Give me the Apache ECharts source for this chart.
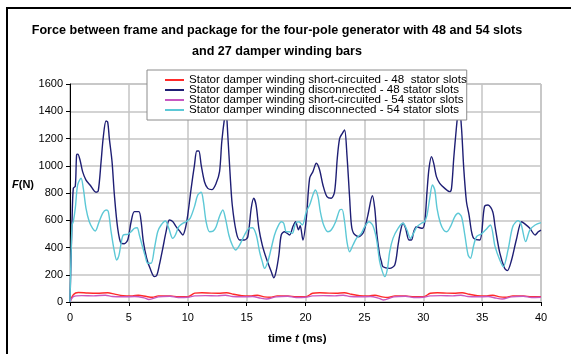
<!DOCTYPE html>
<html>
<head>
<meta charset="utf-8">
<script src="https://cdn.jsdelivr.net/npm/echarts@6/dist/echarts.min.js"></script>
<style>
  html, body { margin: 0; padding: 0; background: #fff; }
  #chart { width: 571px; height: 354px; }
</style>
</head>
<body>
<div id="chart"></div>
<script>
// Series names (legend order)
const seriesNames = [
  'Stator damper winding short-circuited - 48  stator slots',
  'Stator damper winding disconnected - 48 stator slots',
  'Stator damper winding short-circuited - 54 stator slots',
  'Stator damper winding disconnected - 54 stator slots'
];

// Axis ticks
const timeTicks = { min: 0, max: 40, step: 5 };
const forceTicks = { min: 0, max: 1600, step: 200 };

// Force F (N) against time t (ms), [t, F]
const shortCircuited48 = [
  [0,0],[0.3,55],[0.7,70],[1.5,66],[2.3,64],[3.2,68],[3.8,58],[4.5,47],[5.3,45],[5.8,50],
  [6.5,40],[7.0,35],[7.5,45],[8.5,45],[9.2,38],[10,38],[10.6,65],[11.2,68],[12,65],[12.6,64],
  [13.3,68],[13.9,57],[14.6,47],[15.4,45],[15.9,50],[16.5,38],[17,35],[17.6,45],[18.5,45],
  [19.2,38],[20,38],[20.6,64],[21.2,68],[22,65],[22.6,64],[23.3,68],[23.9,57],[24.6,47],
  [25.4,45],[25.9,50],[26.5,38],[27,33],[27.6,45],[28.5,45],[29.2,38],[30,38],[30.6,64],
  [31.2,68],[32,65],[32.6,64],[33.3,68],[33.9,57],[34.6,47],[35.4,45],[35.9,50],[36.5,38],
  [37,35],[37.6,45],[38.5,45],[39.2,38],[40,38]
];

const disconnected48 = [
  [0,0],[0.17,589],[0.28,834],[0.45,850],[0.56,1079],[0.66,1085],[0.85,1042],[1.07,957],
  [1.36,895],[1.7,859],[2.21,805],[2.4,815],[2.64,1030],[2.83,1213],[3.06,1328],[3.2,1320],
  [3.34,1201],[3.57,1030],[3.77,785],[4.05,541],[4.34,431],[4.6,428],[4.9,455],[5.19,589],
  [5.47,663],[5.85,663],[6.04,589],[6.23,443],[6.51,321],[6.8,247],[7.17,186],[7.37,196],
  [7.59,272],[7.88,394],[8.16,516],[8.44,602],[8.72,590],[9.01,553],[9.35,516],[9.58,492],
  [9.8,541],[10.0,638],[10.29,834],[10.57,1005],[10.77,1108],[10.94,1108],[11.14,1005],
  [11.42,883],[11.7,834],[12.05,825],[12.41,871],[12.7,957],[12.89,1176],[13.12,1348],
  [13.25,1400],[13.4,1226],[13.6,932],[13.78,712],[14.11,516],[14.4,455],[14.82,455],
  [15.1,479],[15.39,688],[15.6,761],[15.8,712],[16.04,541],[16.33,418],[16.67,321],
  [17.09,223],[17.31,178],[17.5,223],[17.74,345],[17.94,492],[18.22,516],[18.65,492],
  [18.93,553],[19.16,589],[19.4,530],[19.55,560],[19.78,455],[20.07,614],[20.35,908],
  [20.63,957],[20.92,1018],[21.2,969],[21.48,859],[21.82,773],[22.19,761],[22.47,810],
  [22.7,1055],[22.9,1201],[23.13,1238],[23.32,1262],[23.52,1079],[23.75,761],[23.9,565],
  [24.09,504],[24.54,479],[24.94,516],[25.3,638],[25.68,780],[25.88,688],[26.07,492],
  [26.3,345],[26.45,296],[26.58,259],[27.15,247],[27.58,272],[27.86,418],[28.06,516],
  [28.28,578],[28.5,541],[28.79,455],[29.0,455],[29.19,516],[29.42,553],[29.7,545],
  [29.93,541],[30.13,589],[30.32,810],[30.49,981],[30.7,1067],[30.89,1018],[31.12,920],
  [31.4,871],[31.83,834],[32.25,810],[32.4,834],[32.59,1055],[32.76,1226],[32.96,1397],
  [33.07,1420],[33.25,1275],[33.44,981],[33.67,736],[33.89,638],[34.1,516],[34.29,467],
  [34.8,455],[35.2,700],[35.5,712],[35.9,663],[36.1,553],[36.5,360],[36.9,250],[37.14,230],
  [37.5,308],[37.9,455],[38.35,589],[38.6,575],[39.05,541],[39.5,492],[39.77,516],[40,528]
];

const shortCircuited54 = [
  [0,0],[0.3,40],[1,47],[2,45],[3,50],[3.6,40],[4.5,38],[5.5,40],[6.3,30],[6.7,18],
  [7.5,38],[8.5,42],[9.2,33],[10,35],[10.6,45],[11.5,47],[12.5,45],[13.2,50],[13.8,40],
  [14.6,38],[15.5,40],[16.2,28],[16.7,22],[17.5,38],[18.5,42],[19.2,33],[20,35],[20.6,45],
  [21.5,47],[22.5,45],[23.2,50],[23.8,40],[24.6,38],[25.5,40],[26.2,28],[26.6,15],[27.5,38],
  [28.5,42],[29.2,33],[30,35],[30.6,45],[31.5,47],[32.5,45],[33.2,50],[33.8,40],[34.6,38],
  [35.5,40],[36.2,28],[36.7,22],[37.5,38],[38.5,42],[39.2,33],[40,35]
];

const disconnected54 = [
  [0,0],[0.17,565],[0.28,590],[0.45,688],[0.65,859],[0.94,908],[1.13,834],[1.36,688],
  [1.64,589],[1.92,541],[2.15,521],[2.43,578],[2.77,651],[3.06,675],[3.25,665],[3.49,516],
  [3.77,369],[3.96,308],[4.15,340],[4.34,431],[4.53,492],[4.9,497],[5.19,516],[5.47,541],
  [5.7,545],[5.89,492],[6.12,418],[6.4,333],[6.6,284],[6.89,284],[7.17,394],[7.45,516],
  [7.74,565],[8.1,594],[8.39,541],[8.72,467],[8.95,492],[9.24,553],[9.58,578],[9.86,589],
  [10.2,614],[10.57,700],[10.85,785],[11.14,805],[11.33,736],[11.56,589],[11.85,516],
  [12.15,520],[12.41,553],[12.7,630],[12.98,675],[13.2,614],[13.49,492],[13.78,418],
  [14.06,382],[14.4,418],[14.82,492],[15.19,541],[15.5,545],[15.82,492],[16.1,369],
  [16.33,296],[16.52,247],[16.8,296],[17.09,394],[17.37,492],[17.65,553],[17.94,589],
  [18.15,578],[18.37,516],[18.6,516],[18.88,504],[19.16,578],[19.45,589],[19.73,565],
  [20.07,663],[20.35,712],[20.63,785],[20.83,822],[21.06,773],[21.26,663],[21.54,565],
  [21.9,516],[22.2,530],[22.56,589],[22.9,675],[23.1,680],[23.32,589],[23.52,443],
  [23.75,369],[24.03,418],[24.35,470],[24.74,504],[25.03,553],[25.39,589],[25.7,565],
  [26.02,467],[26.3,296],[26.53,223],[26.73,186],[26.95,240],[27.15,369],[27.43,467],
  [27.86,541],[28.28,578],[28.62,528],[28.91,467],[29.15,500],[29.47,553],[29.85,578],
  [30.1,589],[30.32,638],[30.55,761],[30.78,859],[30.98,822],[31.17,688],[31.46,578],
  [31.74,528],[32.0,516],[32.31,553],[32.68,626],[32.96,651],[33.25,626],[33.53,492],
  [33.81,345],[34.01,321],[34.29,418],[34.52,479],[34.95,500],[35.3,530],[35.7,565],
  [36.1,406],[36.5,308],[36.8,259],[37.2,382],[37.6,553],[38.05,597],[38.3,575],[38.7,443],
  [39.05,528],[39.5,565],[40,582]
];

const lineColors = ['#ff2a2a', '#1e1e74', '#c858c0', '#5cc8d6'];
const seriesData = [shortCircuited48, disconnected48, shortCircuited54, disconnected54];

const chart = echarts.init(document.getElementById('chart'), null, { renderer: 'canvas' });

const fontFamily = 'Arial, "Liberation Sans", sans-serif';

chart.setOption({
  animation: false,
  backgroundColor: '#fff',
  textStyle: { fontFamily: fontFamily },
  grid: {
    left: 70, right: 30, top: 84, bottom: 52,
    show: true, borderColor: '#a8a8a8', borderWidth: 1
  },
  graphic: [
    {
      type: 'rect', z: -10, silent: true,
      shape: { x: 7, y: 8, width: 640, height: 420 },
      style: { fill: 'none', stroke: '#000', lineWidth: 2 }
    },
    {
      type: 'text', x: 277, y: 20,
      style: {
        text: 'Force between frame and package for the four-pole generator with 48 and 54 slots\nand 27 damper winding bars',
        font: 'bold 12.6px ' + fontFamily,
        textAlign: 'center', lineHeight: 21, fill: '#000'
      }
    },
    {
      type: 'text', left: 12, top: 179,
      style: {
        text: '{i|F}{b|(N)}',
        rich: {
          i: { font: 'italic bold 11px ' + fontFamily, fill: '#000' },
          b: { font: 'bold 11px ' + fontFamily, fill: '#000' }
        }
      }
    },
    {
      type: 'text', left: 268, top: 333,
      style: {
        text: '{b|time }{i|t}{b| (ms)}',
        rich: {
          i: { font: 'italic bold 11.6px ' + fontFamily, fill: '#000' },
          b: { font: 'bold 11.6px ' + fontFamily, fill: '#000' }
        }
      }
    }
  ],
  legend: {
    orient: 'vertical',
    left: 147, top: 70,
    padding: [4, 0, 4, 18],
    itemGap: -2,
    itemWidth: 19, itemHeight: 2,
    icon: 'rect',
    backgroundColor: '#fff',
    borderColor: '#8c8c8c', borderWidth: 1,
    textStyle: { fontSize: 11.6, color: '#000', fontFamily: fontFamily },
    data: seriesNames
  },
  xAxis: {
    type: 'value',
    min: timeTicks.min, max: timeTicks.max, interval: timeTicks.step,
    axisLine: { lineStyle: { color: '#000', width: 1 } },
    axisTick: { show: true, length: 4, lineStyle: { color: '#000' } },
    axisLabel: { color: '#000', fontSize: 11, margin: 10 },
    splitLine: { show: true, lineStyle: { color: '#c4c4c4', width: 1.5 } }
  },
  yAxis: {
    type: 'value',
    min: forceTicks.min, max: forceTicks.max, interval: forceTicks.step,
    axisLine: { show: true, lineStyle: { color: '#000', width: 1 } },
    axisTick: { show: true, length: 4, lineStyle: { color: '#000' } },
    axisLabel: { color: '#000', fontSize: 11, margin: 7, formatter: (v) => String(v) },
    splitLine: { show: true, lineStyle: { color: '#c4c4c4', width: 1.5 } }
  },
  series: seriesNames.map((name, i) => ({
    name: name,
    type: 'line',
    data: seriesData[i],
    showSymbol: false,
    symbol: 'none',
    smooth: 0.3,
    lineStyle: { color: lineColors[i], width: 1.4 },
    itemStyle: { color: lineColors[i] },
    z: 2 + i
  }))
});
</script>
</body>
</html>
